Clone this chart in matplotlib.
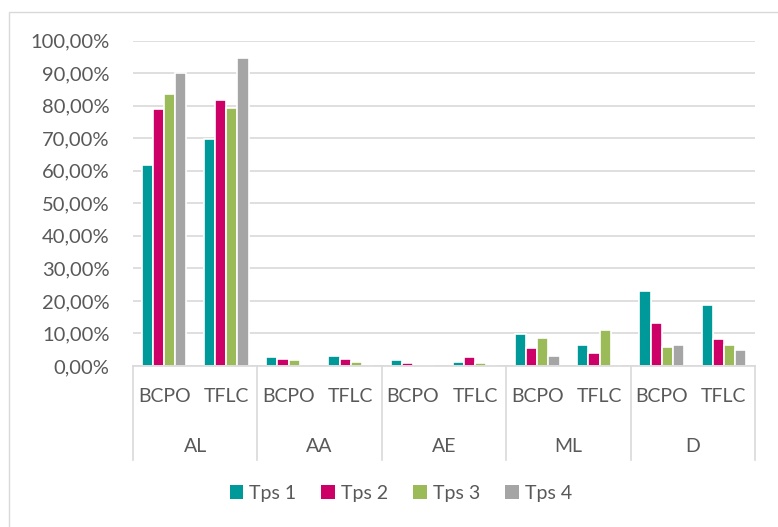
import matplotlib
matplotlib.use("Agg")
import matplotlib.pyplot as plt
import matplotlib.transforms as mtrans
from matplotlib.patches import Rectangle
import numpy as np

plt.rcParams['font.family'] = ['Lato', 'DejaVu Sans']

groups = ["AL", "AA", "AE", "ML", "D"]
subgroups = ["BCPO", "TFLC"]
series_names = ["Tps 1", "Tps 2", "Tps 3", "Tps 4"]
colors = ["#009999", "#CC0066", "#9BBB59", "#A5A5A5"]

# values in % for each (group, subgroup) order: AL-BCPO, AL-TFLC, AA-BCPO, ...
tps1 = [61.6, 69.7, 2.9, 3.2, 1.9, 1.3, 9.8, 6.3, 23.1, 18.8]
tps2 = [78.9, 81.8, 2.2, 2.0, 1.0, 2.7, 5.4, 4.1, 13.3, 8.4]
tps3 = [83.7, 79.3, 1.7, 1.1, 0.0, 1.0, 8.5, 11.1, 5.9, 6.5]
tps4 = [90.1, 94.5, 0.0, 0.0, 0.0, 0.0, 3.1, 0.0, 6.3, 5.0]
yticks = [0, 10, 20, 30, 40, 50, 60, 70, 80, 90, 100]
ytick_labels = ["0,00%", "10,00%", "20,00%", "30,00%", "40,00%", "50,00%",
                "60,00%", "70,00%", "80,00%", "90,00%", "100,00%"]

W, H = 778, 527
fig = plt.figure(figsize=(W / 100, H / 100), dpi=100)
fig.patch.set_facecolor("white")

# chart border (only top/left visible in reference)
fig.add_artist(Rectangle((8.5 / W, -0.1), 1.2, 1.1 - 11.5 / H + 0.0,
                         transform=fig.transFigure, fill=False,
                         edgecolor="#D9D9D9", linewidth=1.0))

left, right = 133, 755
bottom, top = 366, 40.5
ax = fig.add_axes([left / W, 1 - bottom / H, (right - left) / W, (bottom - top) / H])
ax.set_xlim(0, 10)
ax.set_ylim(0, 100)

n = len(tps1)
x = np.arange(n) + 0.5
bw = 0.18
all_series = [tps1, tps2, tps3, tps4]
for i, (vals, col, name) in enumerate(zip(all_series, colors, series_names)):
    offs = (i - 1.5) * bw
    ax.bar(x + offs, vals, width=bw, color=col, edgecolor="white",
           linewidth=1.2, label=name, zorder=3)

FS = 14
ax.set_yticks(yticks)
ax.set_yticklabels(ytick_labels)
ax.tick_params(axis='y', length=0, pad=17, labelsize=14.5, labelcolor="#595959")
ax.tick_params(axis='x', length=0, labelbottom=False)
ax.yaxis.grid(True, color="#D9D9D9", linewidth=1.2, zorder=0)
for s in ["top", "right", "left"]:
    ax.spines[s].set_visible(False)
ax.spines["bottom"].set_color("#D9D9D9")
ax.spines["bottom"].set_linewidth(1.2)
ax.spines["bottom"].set_zorder(4)

trans = mtrans.blended_transform_factory(ax.transData, ax.transAxes)
axh = (bottom - top)
def ypx(py):
    return (bottom - py) / axh

# sub-category labels
for i in range(n):
    ax.text(x[i], ypx(396), subgroups[i % 2], transform=trans, ha="center",
            va="center", fontsize=FS, color="#595959", clip_on=False)
# group labels
for g, name in enumerate(groups):
    ax.text(2 * g + 1, ypx(446), name, transform=trans, ha="center",
            va="center", fontsize=FS, color="#595959", clip_on=False)
# separators
for g in range(len(groups) + 1):
    ax.plot([2 * g, 2 * g], [0, ypx(460)], transform=trans, color="#D9D9D9",
            linewidth=1.2, clip_on=False, zorder=4)

leg = fig.legend(loc="center", bbox_to_anchor=(0.515, 1 - 493 / H), ncol=4,
                 frameon=False, fontsize=FS, handlelength=0.7,
                 handleheight=0.7, handletextpad=0.3, columnspacing=1.3)
for t in leg.get_texts():
    t.set_color("#595959")
for h in leg.legend_handles:
    h.set_edgecolor("none")

fig.savefig("out.png", dpi=100, facecolor="white")
